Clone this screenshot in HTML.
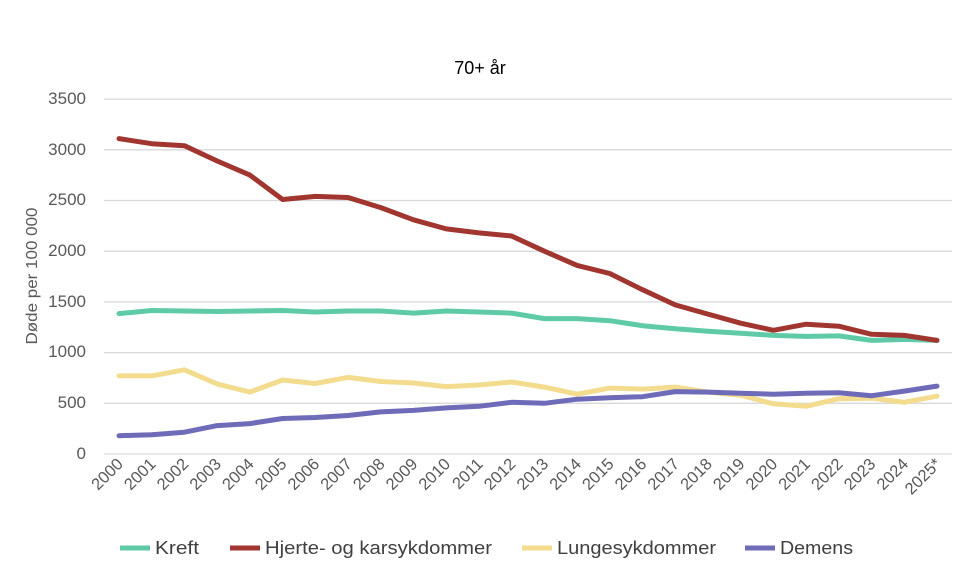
<!DOCTYPE html>
<html><head><meta charset="utf-8"><style>
body{margin:0;background:#fff}
svg{display:block;font-family:"Liberation Sans",Arial,sans-serif}
</style></head><body>
<svg id="s" width="970" height="575" viewBox="0 0 970 575">
<text x="480" y="74" font-size="18" text-anchor="middle" fill="#000">70+ år</text>
<g id="grid" stroke="#d9d9d9" stroke-width="1.3"></g>
<g font-size="17" fill="#595959" text-anchor="end">
<text x="86" y="104">3500</text><text x="86" y="155">3000</text><text x="86" y="205">2500</text>
<text x="86" y="256">2000</text><text x="86" y="307">1500</text><text x="86" y="357">1000</text>
<text x="86" y="408">500</text><text x="86" y="459">0</text>
</g>
<text transform="translate(37,276) rotate(-90)" font-size="16" fill="#595959" text-anchor="middle" textLength="137" lengthAdjust="spacingAndGlyphs">Døde per 100 000</text>
<g id="xl" font-size="16.5" fill="#595959" text-anchor="end">
<text>2000</text><text>2001</text><text>2002</text><text>2003</text><text>2004</text><text>2005</text><text>2006</text><text>2007</text><text>2008</text><text>2009</text><text>2010</text><text>2011</text><text>2012</text><text>2013</text><text>2014</text><text>2015</text><text>2016</text><text>2017</text><text>2018</text><text>2019</text><text>2020</text><text>2021</text><text>2022</text><text>2023</text><text>2024</text><text>2025*</text>
</g>
<g id="lines" fill="none" stroke-width="5" stroke-linejoin="round" stroke-linecap="round"></g>
<g font-size="18" fill="#404040">
<line x1="120" y1="548" x2="150" y2="548" stroke="#5ecba6" stroke-width="5"/><text x="155" y="554" textLength="44" lengthAdjust="spacingAndGlyphs">Kreft</text>
<line x1="230" y1="548" x2="260" y2="548" stroke="#a13630" stroke-width="5"/><text x="265" y="554" textLength="227" lengthAdjust="spacingAndGlyphs">Hjerte- og karsykdommer</text>
<line x1="522" y1="548" x2="552" y2="548" stroke="#f3dc8e" stroke-width="5"/><text x="557" y="554" textLength="159" lengthAdjust="spacingAndGlyphs">Lungesykdommer</text>
<line x1="745" y1="548" x2="775" y2="548" stroke="#6e6bb8" stroke-width="5"/><text x="780" y="554" textLength="73" lengthAdjust="spacingAndGlyphs">Demens</text>
</g>
</svg>
<script>
var X0=119,DX=32.72,Y0=454,K=0.1014;
function x(i){return X0+i*DX}function y(v){return Y0-v*K}
var g=document.getElementById('grid'),h='';
for(var v=0;v<=3500;v+=500){h+='<line x1="104" x2="952" y1="'+y(v).toFixed(1)+'" y2="'+y(v).toFixed(1)+'"/>';}
g.innerHTML=h;
var t=document.getElementById('xl').children;
for(var i=0;i<t.length;i++){t[i].setAttribute('transform','translate('+(x(i)+5)+',465) rotate(-45)');}
var S=[
["#5ecba6",[1385,1415,1410,1405,1410,1415,1400,1410,1410,1390,1410,1400,1390,1335,1335,1315,1265,1235,1210,1190,1170,1160,1165,1120,1130,1120]],
["#f3dc8e",[770,770,830,690,610,730,695,755,715,700,665,680,710,660,590,650,640,660,610,580,495,470,545,550,510,570]],
["#6e6bb8",[180,190,215,280,300,350,360,380,415,430,455,470,510,500,540,555,565,615,610,600,590,600,605,575,620,670]],
["#a13630",[3110,3060,3040,2890,2750,2510,2540,2530,2430,2310,2220,2180,2150,2000,1860,1780,1620,1470,1380,1290,1220,1280,1260,1180,1170,1120]]];
var L='';S.forEach(function(s){L+='<polyline stroke="'+s[0]+'" points="'+s[1].map(function(v,i){return x(i).toFixed(1)+','+y(v).toFixed(1)}).join(' ')+'"/>';});
document.getElementById('lines').innerHTML=L;
</script>
</body></html>
